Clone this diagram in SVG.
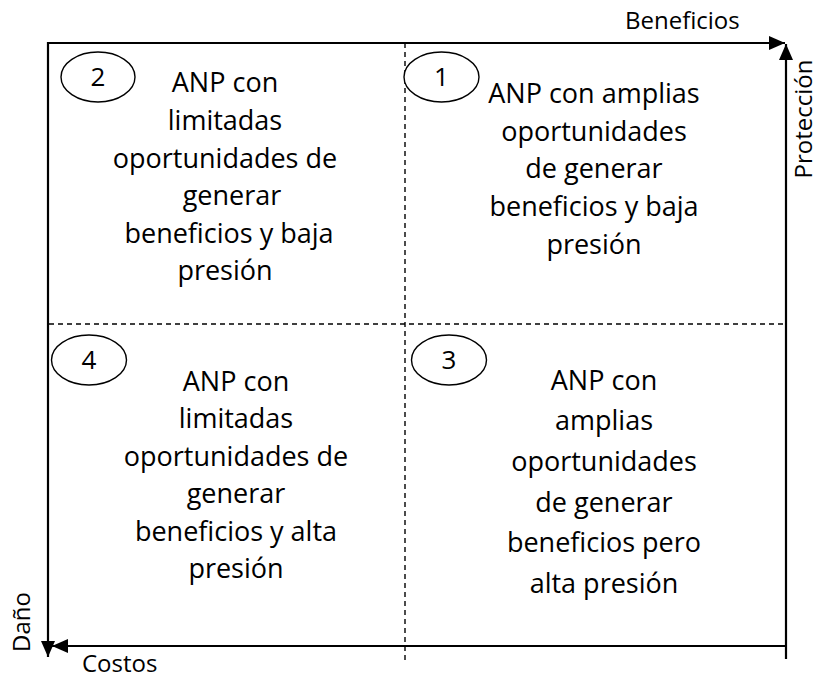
<svg xmlns="http://www.w3.org/2000/svg" width="821" height="680" viewBox="0 0 821 680">
<style>
.ax{stroke:#000;stroke-width:2.2;fill:none}
.ds{stroke:#000;stroke-width:1.4;stroke-dasharray:5 4;fill:none}
.el{stroke:#000;stroke-width:1.4;fill:#fff}
.t{font-family:"Open Sans","Liberation Sans",sans-serif;font-size:27px;fill:#000;text-anchor:middle}
.n{font-family:"Open Sans","Liberation Sans",sans-serif;font-size:26px;fill:#000;text-anchor:middle}
.lb{font-family:"Open Sans","Liberation Sans",sans-serif;font-size:24px;fill:#000}
</style>
<defs>
<marker id="ah" markerUnits="userSpaceOnUse" markerWidth="17" markerHeight="14" refX="16" refY="7" orient="auto">
<path d="M0,0 L16,7 L0,14 Z" fill="#000"/>
</marker>
</defs>
<rect width="821" height="680" fill="#fff"/>
<g id="connectors">
<line class="ds" x1="49" y1="324" x2="786" y2="324"/>
<line class="ds" x1="405" y1="43" x2="405" y2="660"/>
<line class="ax" x1="48" y1="43" x2="785" y2="43" marker-end="url(#ah)"/>
<line class="ax" x1="786" y1="659" x2="786" y2="44" marker-end="url(#ah)"/>
<line class="ax" x1="787" y1="646" x2="52" y2="646" marker-end="url(#ah)"/>
<line class="ax" x1="48" y1="42" x2="48" y2="657" marker-end="url(#ah)"/>
</g>
<g id="axis-labels">
<text class="lb" x="625" y="29">Beneficios</text>
<text class="lb" transform="translate(812,119) rotate(-90)" font-size="27" text-anchor="middle">Protección</text>
<text class="lb" transform="translate(30,652) rotate(-90)">Daño</text>
<text class="lb" x="82" y="672">Costos</text>
</g>
<g id="q2">
<ellipse class="el" cx="98" cy="77" rx="37" ry="25"/>
<text class="n" x="98" y="86">2</text>
<text class="t" x="225" y="92">ANP con</text>
<text class="t" x="225" y="130">limitadas</text>
<text class="t" x="225" y="168">oportunidades de</text>
<text class="t" x="232" y="205">generar</text>
<text class="t" x="229" y="243">beneficios y baja</text>
<text class="t" x="225" y="280">presión</text>
</g>
<g id="q1">
<ellipse class="el" cx="441.5" cy="77" rx="37.5" ry="25"/>
<text class="n" x="441.5" y="86">1</text>
<text class="t" x="594" y="103">ANP con amplias</text>
<text class="t" x="594" y="141">oportunidades</text>
<text class="t" x="594" y="178">de generar</text>
<text class="t" x="594" y="216">beneficios y baja</text>
<text class="t" x="594" y="254">presión</text>
</g>
<g id="q4">
<ellipse class="el" cx="89" cy="360" rx="37.5" ry="25"/>
<text class="n" x="89" y="369">4</text>
<text class="t" x="236" y="391">ANP con</text>
<text class="t" x="236" y="428">limitadas</text>
<text class="t" x="236" y="466">oportunidades de</text>
<text class="t" x="236" y="503">generar</text>
<text class="t" x="236" y="541">beneficios y alta</text>
<text class="t" x="236" y="578">presión</text>
</g>
<g id="q3">
<ellipse class="el" cx="449" cy="360" rx="37.5" ry="25"/>
<text class="n" x="449" y="369">3</text>
<text class="t" x="604" y="390">ANP con</text>
<text class="t" x="604" y="430">amplias</text>
<text class="t" x="604" y="471">oportunidades</text>
<text class="t" x="604" y="512">de generar</text>
<text class="t" x="604" y="552">beneficios pero</text>
<text class="t" x="604" y="593">alta presión</text>
</g>
</svg>
